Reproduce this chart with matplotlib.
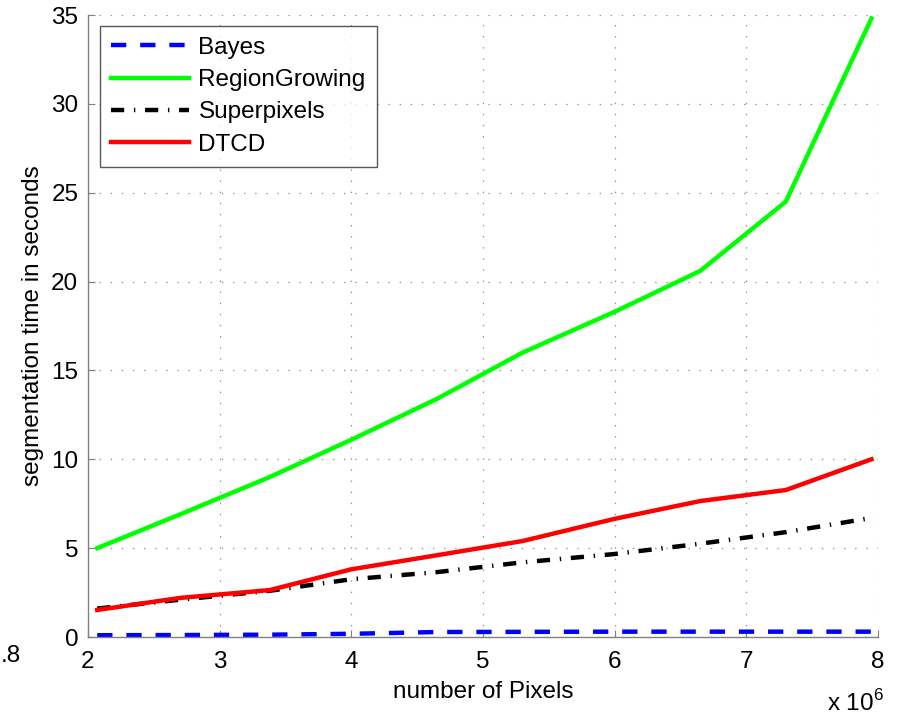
import matplotlib
matplotlib.use("Agg")
import matplotlib.pyplot as plt

plt.rcParams['font.family'] = ['Liberation Sans', 'DejaVu Sans']
plt.rcParams['mathtext.fontset'] = 'custom'
plt.rcParams['mathtext.rm'] = 'Liberation Sans'
plt.rcParams['lines.scale_dashes'] = False

# Image size in millions of pixels
pixels = [2.07, 2.70, 3.38, 4.00, 4.65, 5.30, 6.00, 6.65, 7.30, 7.95]

bayes = [0.10, 0.11, 0.13, 0.18, 0.28, 0.29, 0.30, 0.30, 0.30, 0.30]
region_growing = [5.0, 6.9, 9.0, 11.1, 13.4, 16.0, 18.3, 20.6, 24.5, 34.8]
superpixels = [1.60, 2.10, 2.60, 3.25, 3.65, 4.20, 4.67, 5.25, 5.90, 6.70]
dtcd = [1.52, 2.20, 2.64, 3.81, 4.60, 5.40, 6.65, 7.65, 8.27, 10.0]

x_ticks = [2, 3, 4, 5, 6, 7, 8]
y_ticks = [0, 5, 10, 15, 20, 25, 30, 35]

FS = 17.5
fig = plt.figure(figsize=(9.01, 7.15), dpi=100)
ax = fig.add_axes([88 / 901, 78 / 715, 790 / 901, 622 / 715])

ax.plot(pixels, bayes, color='#0000ff', lw=3.2, linestyle=(0, (11, 10)), label='Bayes')
ax.plot(pixels, region_growing, color='#00ff00', lw=3.2, label='RegionGrowing')
ax.plot(pixels, superpixels, color='black', lw=3.2, linestyle=(0, (9.5, 7, 1, 7)), label='Superpixels')
ax.plot(pixels, dtcd, color='#ff0000', lw=3.2, label='DTCD')

ax.set_xlim(2, 8)
ax.set_ylim(0, 35)
ax.set_xticks(x_ticks)
ax.set_yticks(y_ticks)
ax.set_xticklabels([str(v) for v in x_ticks])
ax.set_yticklabels([str(v) for v in y_ticks])

for side in ('top', 'right'):
    ax.spines[side].set_visible(False)
for side in ('left', 'bottom'):
    ax.spines[side].set_color('#808080')
    ax.spines[side].set_linewidth(1.0)

ax.tick_params(direction='in', length=5, width=0.8, color='#808080',
               labelsize=FS, labelcolor='black')
ax.tick_params(axis='x', pad=10)
ax.tick_params(axis='y', pad=7)
ax.grid(True, linestyle=(0, (1, 7)), color='#909090', linewidth=0.9)

ax.set_xlabel('number of Pixels', fontsize=FS, labelpad=6)
ax.set_ylabel('segmentation time in seconds', fontsize=FS, labelpad=5)

leg = ax.legend(loc='upper left', fontsize=FS, frameon=True, fancybox=False,
                handlelength=3.2, handletextpad=0.4, borderpad=0.45,
                labelspacing=0.42, borderaxespad=0,
                bbox_to_anchor=(12 / 790, 611 / 622))
leg.get_frame().set_edgecolor('#303030')
leg.get_frame().set_linewidth(1.0)

fig.text(855 / 901, 1 - 703 / 715, r'x 10$^{6}$', fontsize=FS, ha='center', va='center')
fig.text(0.5 / 901, 1 - 656 / 715, '.8', fontsize=FS, ha='left', va='center')

fig.savefig('out.png', dpi=100, facecolor='white')
